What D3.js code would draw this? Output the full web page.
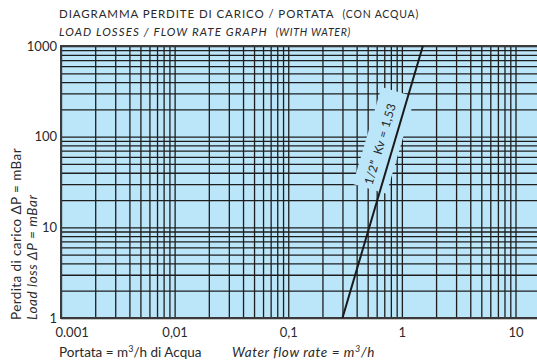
<!DOCTYPE html>
<html>
<head>
<meta charset="utf-8">
<script src="https://cdn.jsdelivr.net/npm/d3@7"></script>
<style>
  body { margin: 0; background: #fff; }
  svg text { font-family: Lato, "Open Sans", sans-serif; fill: #2a2a2a; }
</style>
</head>
<body>
<div id="chart"></div>
<script>
(function(){
    /* global d3 */
    var titleIt = ['DIAGRAMMA PERDITE DI CARICO / PORTATA', '(CON ACQUA)'];
    var titleEn = ['LOAD LOSSES / FLOW RATE GRAPH', '(WITH WATER)'];
    var xTickValues = [0.001, 0.01, 0.1, 1, 10];
    var xTickLabels = ['0.001', '0,01', '0,1', '1', '10'];
    var yTickValues = [1, 10, 100, 1000];
    var yTickLabels = ['1', '10', '100', '1000'];
    // Kv line as drawn on the sheet: flow (m3/h) and pressure drop (mBar)
    var kvFlow = [0.3, 1.53];
    var kvDrop = [1, 1000];
    var kvLabel = '1/2\u201D  Kv = 1,53';

    var W = 537, H = 363;
    var left = 61, top = 46, bottom = 318;
    var bg = '#bbe5f8';

    var x = d3.scaleLog().domain([0.001, 10]).range([left, 515.5]);
    var y = d3.scaleLog().domain([1, 1000]).range([bottom, top]);
    var xGrid = d3.scaleLog().domain([0.001, x.invert(W)]).range([left, W]);

    var svg = d3.select('#chart').append('svg')
        .attr('width', W).attr('height', H);

    // titles
    var t1 = svg.append('text').attr('x', 59).attr('y', 18)
        .style('font-size', '11.5px').style('letter-spacing', '0.9px');
    t1.append('tspan').text(titleIt[0]);
    t1.append('tspan').attr('dx', 8).style('font-size', '10.5px').style('letter-spacing', '0.8px').text(titleIt[1]);
    var t2 = svg.append('text').attr('x', 59).attr('y', 36)
        .style('font-size', '11.5px').style('font-style', 'italic').style('letter-spacing', '1.1px');
    t2.append('tspan').text(titleEn[0]);
    t2.append('tspan').attr('dx', 8).style('font-size', '10.5px').style('letter-spacing', '0.7px').text(titleEn[1]);

    // plot background
    svg.append('rect')
        .attr('x', left).attr('y', top)
        .attr('width', W - left).attr('height', bottom - top)
        .attr('fill', bg);

    // grid
    var gx = svg.append('g')
        .attr('transform', 'translate(0,' + bottom + ')')
        .call(d3.axisBottom(xGrid).tickValues(xGrid.ticks()).tickSize(-(bottom - top)).tickFormat(''));
    var gy = svg.append('g')
        .attr('transform', 'translate(' + left + ',0)')
        .call(d3.axisLeft(y).tickValues(y.ticks()).tickSize(-(W - left)).tickFormat(''));
    [gx, gy].forEach(function(g){
        g.select('.domain').remove();
        g.selectAll('line').attr('stroke', '#1e1e1e').attr('stroke-width', 1.3);
    });

    // frame
    svg.append('path')
        .attr('d', 'M' + W + ',' + top + 'H' + left + 'V' + bottom + 'H' + W)
        .attr('fill', 'none').attr('stroke', '#3a3a3a').attr('stroke-width', 2);

    // label box + kv line
    var pts = kvFlow.map(function(q, i){ return {q: q, dp: kvDrop[i]}; });
    var x0 = x(pts[0].q), y0 = y(pts[0].dp), x1 = x(pts[1].q), y1 = y(pts[1].dp);
    var ang = Math.atan2(y1 - y0, x1 - x0) * 180 / Math.PI;
    var f = 0.64;
    var px = x0 + f * (x1 - x0), py = y0 + f * (y1 - y0);
    var lab = svg.append('g').attr('transform', 'translate(' + px + ',' + py + ') rotate(' + ang + ')');
    lab.append('rect')
        .attr('x', -50).attr('y', -28).attr('width', 101).attr('height', 35)
        .attr('fill', bg);

    svg.append('path')
        .datum(pts)
        .attr('d', d3.line().x(function(d){ return x(d.q); }).y(function(d){ return y(d.dp); }))
        .attr('fill', 'none').attr('stroke', '#1a1a1a').attr('stroke-width', 2);

    svg.append('g').attr('transform', 'translate(' + px + ',' + py + ') rotate(' + ang + ')')
        .append('text')
        .attr('x', -4).attr('y', -9)
        .attr('text-anchor', 'middle')
        .style('font-size', '12px').style('white-space', 'pre').style('letter-spacing', '0.3px')
        .text(kvLabel);

    // tick labels
    var ax = svg.append('g')
        .attr('transform', 'translate(0,' + bottom + ')')
        .call(d3.axisBottom(x).tickValues(xTickValues).tickSize(0).tickPadding(10)
            .tickFormat(function(d, i){ return xTickLabels[i]; }));
    var ay = svg.append('g')
        .attr('transform', 'translate(' + left + ',0)')
        .call(d3.axisLeft(y).tickValues(yTickValues).tickSize(0).tickPadding(4)
            .tickFormat(function(d, i){ return yTickLabels[i]; }));
    [ax, ay].forEach(function(g){
        g.select('.domain').remove();
        g.selectAll('text').attr('fill', '#2a2a2a').style('font-size', '13px').style('font-family', 'Lato, sans-serif');
    });
    ax.selectAll('text').filter(function(d, i){ return i === 0; }).attr('text-anchor', 'start').attr('dx', -6);

    // axis titles
    var xt = svg.append('text').attr('x', 59).attr('y', 357).style('font-size', '13.5px');
    xt.append('tspan').text('Portata = m');
    xt.append('tspan').attr('dy', -5).style('font-size', '9px').text('3');
    xt.append('tspan').attr('dy', 5).text('/h di Acqua');
    var xe = svg.append('text').attr('x', 232).attr('y', 357)
        .style('font-size', '13.5px').style('font-style', 'italic').style('letter-spacing', '0.6px');
    xe.append('tspan').text('Water flow rate = m');
    xe.append('tspan').attr('dy', -5).style('font-size', '9px').text('3');
    xe.append('tspan').attr('dy', 5).text('/h');

    svg.append('text')
        .attr('transform', 'translate(21,320) rotate(-90)')
        .style('font-size', '13.5px').style('letter-spacing', '0.4px')
        .text('Perdita di carico  \u0394P = mBar');
    svg.append('text')
        .attr('transform', 'translate(37,320) rotate(-90)')
        .style('font-size', '13.5px').style('font-style', 'italic').style('letter-spacing', '0.6px')
        .text('Load loss  \u0394P = mBar');
})();
</script>
</body>
</html>
